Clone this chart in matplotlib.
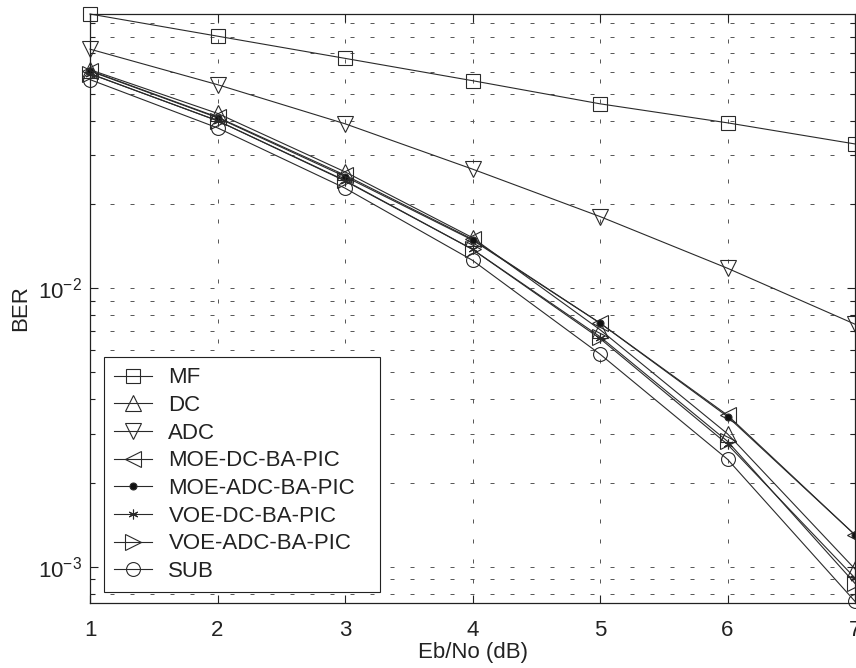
import matplotlib
matplotlib.use("Agg")
import matplotlib.pyplot as plt
from matplotlib.ticker import LogLocator, FixedLocator, NullFormatter, LogFormatterSciNotation

plt.rcParams["font.family"] = ["Liberation Sans", "DejaVu Sans"]
plt.rcParams["lines.scale_dashes"] = False

# Eb/No points (dB)
ebno = [1, 2, 3, 4, 5, 6, 7]

# Bit error rate for each receiver
ber_mf = [0.0967, 0.0805, 0.0670, 0.0557, 0.0460, 0.0393, 0.0330]
ber_dc = [0.0610, 0.0425, 0.0262, 0.0152, 0.0071, 0.0030, 0.00098]
ber_adc = [0.0723, 0.0539, 0.0390, 0.0268, 0.0181, 0.0118, 0.00743]
ber_moe_dc = [0.0605, 0.0412, 0.0255, 0.0150, 0.0075, 0.00350, 0.00130]
ber_moe_adc = [0.0603, 0.0410, 0.0252, 0.0149, 0.0075, 0.00346, 0.00130]
ber_voe_dc = [0.0590, 0.0400, 0.0243, 0.0138, 0.0066, 0.00275, 0.00091]
ber_voe_adc = [0.0590, 0.0400, 0.0244, 0.0138, 0.0067, 0.00282, 0.00087]
ber_sub = [0.0562, 0.0377, 0.0229, 0.0126, 0.0058, 0.00243, 0.00075]

labels = ["MF", "DC", "ADC", "MOE-DC-BA-PIC", "MOE-ADC-BA-PIC",
          "VOE-DC-BA-PIC", "VOE-ADC-BA-PIC", "SUB"]
series = [ber_mf, ber_dc, ber_adc, ber_moe_dc, ber_moe_adc,
          ber_voe_dc, ber_voe_adc, ber_sub]
styles = [
    dict(marker="s", ms=10, mfc="none"),
    dict(marker="^", ms=11, mfc="none"),
    dict(marker="v", ms=11, mfc="none"),
    dict(marker="<", ms=11, mfc="none"),
    dict(marker=".", ms=10, mfc="#111111"),
    dict(marker=(6, 2, 0), ms=7, mfc="none"),
    dict(marker=">", ms=11, mfc="none"),
    dict(marker="o", ms=10, mfc="none"),
]

line_color = "#2a2a2a"
text_color = "#222222"
fs = 16

fig = plt.figure(figsize=(8.56, 6.68), dpi=100)
ax = fig.add_axes([90 / 856, (668 - 603) / 668, 765 / 856, 589 / 668])

for y, lab, st in zip(series, labels, styles):
    ax.plot(ebno, y, color=line_color, lw=0.8, mec=line_color, mew=0.8,
            label=lab, clip_on=False, **st)

ax.set_yscale("log")
ax.set_xlim(1, 7)
ax.set_ylim(7.4e-4, 0.0967)

ax.xaxis.set_major_locator(FixedLocator(ebno))
ax.yaxis.set_major_locator(LogLocator(base=10, numticks=10))
ax.yaxis.set_minor_locator(LogLocator(base=10, subs=range(2, 10), numticks=20))
ax.yaxis.set_major_formatter(LogFormatterSciNotation())
ax.yaxis.set_minor_formatter(NullFormatter())

grid_style = dict(color="#555555", lw=0.7, linestyle=(0, (2.9, 11.5)))
ax.grid(True, which="major", axis="x", **grid_style)
ax.grid(True, which="both", axis="y", **grid_style)

ax.tick_params(which="both", direction="in", top=True, right=True,
               labelsize=fs, colors=text_color)
ax.tick_params(which="major", length=6, width=0.8)
ax.tick_params(which="minor", length=3.5, width=0.8)
ax.tick_params(axis="x", pad=12)
ax.tick_params(axis="y", pad=6)
for sp in ax.spines.values():
    sp.set_linewidth(0.9)
    sp.set_color(text_color)

ax.set_xlabel("Eb/No (dB)", fontsize=fs, color=text_color)
ax.set_ylabel("BER", fontsize=fs, color=text_color)
ax.xaxis.set_label_coords(0.5, -0.066)
ax.yaxis.set_label_coords(-0.077, 0.5)

leg = ax.legend(loc="lower left",
                bbox_to_anchor=((104 - 90) / 765, (603 - 592) / 589,
                                (380 - 104) / 765, (592 - 360) / 589),
                mode="expand", borderaxespad=0, fontsize=fs,
                handlelength=1.7, handletextpad=0.75, labelspacing=0.3,
                borderpad=0.45, fancybox=False, framealpha=1,
                edgecolor=text_color)
leg.get_frame().set_linewidth(0.8)
for t in leg.get_texts():
    t.set_color(text_color)

fig.savefig("out.png", dpi=100, facecolor="white")
